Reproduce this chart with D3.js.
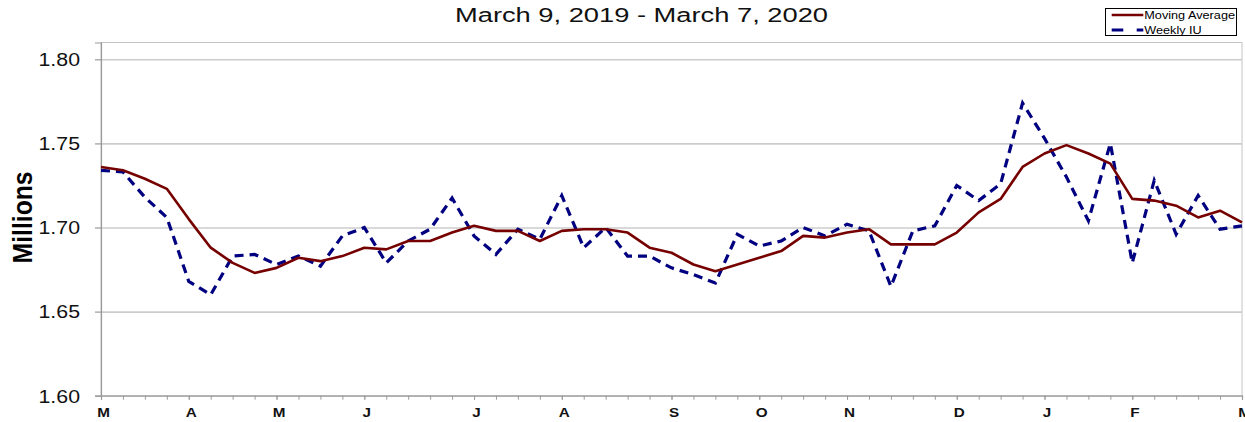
<!DOCTYPE html>
<html>
<head>
<meta charset="utf-8">
<script src="https://cdn.jsdelivr.net/npm/d3@7"></script>
<style>
  html, body { margin: 0; padding: 0; background: #fff; }
  svg { display: block; font-family: "Liberation Sans", Arial, sans-serif; }
</style>
</head>
<body>
<svg id="chart" width="1245" height="422"></svg>
<script>
// ---- data ----
const startDate = "2019-03-09";
const weekCount = 53;
const movingAverage = [1.736,1.734,1.729,1.723,1.705,1.688,1.679,1.673,1.676,1.682,
                       1.680,1.683,1.688,1.687,1.692,1.692,1.697,1.701,1.698,1.698,
                       1.692,1.698,1.699,1.699,1.697,1.688,1.685,1.678,1.674,1.678,
                       1.682,1.686,1.695,1.694,1.697,1.699,1.690,1.690,1.690,1.697,
                       1.709,1.717,1.736,1.744,1.749,1.744,1.738,1.717,1.716,1.713,
                       1.706,1.710,1.703];
const weeklyIU = [1.734,1.733,1.718,1.706,1.668,1.660,1.683,1.684,1.678,1.683,
                  1.677,1.695,1.700,1.679,1.692,1.699,1.7175,1.695,1.684,1.699,
                  1.693,1.719,1.688,1.700,1.683,1.683,1.676,1.672,1.667,1.696,
                  1.689,1.692,1.700,1.695,1.702,1.698,1.665,1.698,1.701,1.725,
                  1.716,1.726,1.774,1.753,1.730,1.704,1.750,1.679,1.728,1.696,
                  1.719,1.699,1.701];
const yTicks = [1.60, 1.65, 1.70, 1.75, 1.80];
const seriesNames = ["Moving Average", "Weekly IU"];
const title = "March 9, 2019 - March 7, 2020";
const yLabel = "Millions";

(function () {
// ---- build dates ----
const t0 = d3.timeParse("%Y-%m-%d")(startDate);
const dates = d3.range(weekCount).map(i => d3.timeDay.offset(t0, 7 * i));
const monthTicks = dates.filter((d, i) => i === 0 || d.getDate() <= 7);

const svg = d3.select("#chart");
const pLeft = 101, pRight = 1242, pTop = 42.5, pBottom = 395.7;

const x = d3.scaleTime().domain([dates[0], dates[dates.length - 1]]).range([pLeft, pRight]);
const y = d3.scaleLinear().domain([1.60, 1.81]).range([pBottom, pTop]);

// plot area border
svg.append("rect").attr("x", pLeft).attr("y", pTop).attr("width", pRight - pLeft).attr("height", pBottom - pTop)
  .attr("fill", "none").attr("stroke", "#c4c4c4").attr("stroke-width", 1);

// gridlines
const grid = svg.append("g").attr("transform", `translate(${pLeft},0)`)
  .call(d3.axisLeft(y).tickValues(yTicks.slice(1)).tickSize(-(pRight - pLeft)).tickFormat(""));
grid.select(".domain").remove();
grid.selectAll("line").attr("stroke", "#cccccc").attr("stroke-width", 1.6);

// y axis
const yAxis = svg.append("g").attr("transform", `translate(${pLeft},0)`)
  .call(d3.axisLeft(y).tickValues(yTicks).tickSize(6).tickPadding(15).tickFormat(d3.format(".2f")));
yAxis.select(".domain").attr("stroke", "#9a9a9a").attr("stroke-width", 1.2);
yAxis.selectAll(".tick line").attr("stroke", "#9a9a9a").attr("stroke-width", 1.2);
yAxis.selectAll(".tick text").attr("font-size", 17.5).attr("fill", "#111")
  .attr("font-family", "'Liberation Sans', Arial, sans-serif")
  .attr("dy", "0.36em").attr("textLength", 41.5).attr("lengthAdjust", "spacingAndGlyphs");

// x axis minor ticks
const xMinor = svg.append("g").attr("transform", `translate(0,${pBottom})`)
  .call(d3.axisBottom(x).tickValues(dates).tickSize(4).tickFormat(""));
xMinor.select(".domain").attr("stroke", "#9a9a9a").attr("stroke-width", 1.2);
xMinor.selectAll(".tick line").attr("stroke", "#9a9a9a");

// x axis labels
const xAxis = svg.append("g").attr("transform", `translate(0,${pBottom})`)
  .call(d3.axisBottom(x).tickValues(monthTicks).tickSize(4).tickPadding(8)
    .tickFormat(d => d3.timeFormat("%B")(d).charAt(0)));
xAxis.select(".domain").remove();
xAxis.selectAll(".tick line").attr("stroke", "#9a9a9a");
xAxis.selectAll(".tick text").attr("font-size", 12.5).attr("font-weight", "bold").attr("fill", "#111")
  .attr("font-family", "'Liberation Sans', Arial, sans-serif").attr("dx", 2)
  .each(function () {
    const w = this.getComputedTextLength();
    d3.select(this).attr("textLength", w * 1.22).attr("lengthAdjust", "spacingAndGlyphs");
  });

// lines
const lineGen = vals => d3.line().x((d, i) => x(dates[i])).y(d => y(d))(vals);
svg.append("path").attr("d", lineGen(weeklyIU)).attr("fill", "none")
  .attr("stroke", "#000080").attr("stroke-width", 3.2).attr("stroke-dasharray", "9,6");
svg.append("path").attr("d", lineGen(movingAverage)).attr("fill", "none")
  .attr("stroke", "#760000").attr("stroke-width", 2.6).attr("stroke-linejoin", "round");

// title
svg.append("text").attr("x", 641.5).attr("y", 22).attr("text-anchor", "middle")
  .attr("font-size", 20).attr("fill", "#111").text(title)
  .attr("textLength", 373).attr("lengthAdjust", "spacingAndGlyphs");

// y label
svg.append("text").attr("transform", `translate(31.5,217.4) rotate(-90)`)
  .attr("text-anchor", "middle").attr("font-size", 27).attr("font-weight", "bold").attr("fill", "#000")
  .attr("textLength", 92).attr("lengthAdjust", "spacingAndGlyphs").text(yLabel);

// legend
const lg = svg.append("g");
lg.append("rect").attr("x", 1105.5).attr("y", 8.5).attr("width", 131).attr("height", 27)
  .attr("fill", "#fff").attr("stroke", "#000").attr("stroke-width", 1);
const legendStyles = [
  { color: "#760000", dash: null, w: 2.6 },
  { color: "#000080", dash: "11.6,13.4", w: 3 }
];
const legendText = [90.7, 57.4];
seriesNames.forEach((name, i) => {
  const ly = 15 + i * 15;
  lg.append("line").attr("x1", 1111.7).attr("x2", 1143.3).attr("y1", ly).attr("y2", ly)
    .attr("stroke", legendStyles[i].color).attr("stroke-width", legendStyles[i].w)
    .attr("stroke-dasharray", legendStyles[i].dash);
  lg.append("text").attr("x", 1144.3).attr("y", ly + 3.6).attr("font-size", 10).attr("fill", "#000")
    .attr("textLength", legendText[i]).attr("lengthAdjust", "spacingAndGlyphs").text(name);
});
})();
</script>
</body>
</html>
